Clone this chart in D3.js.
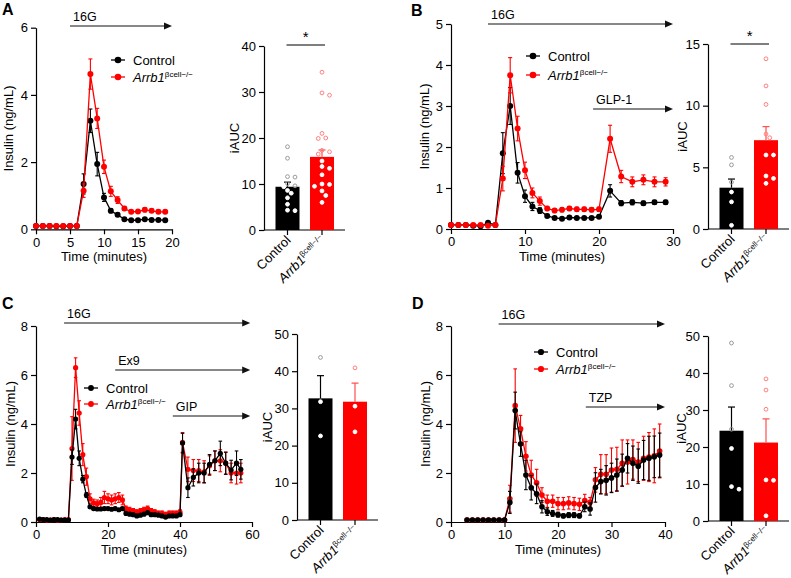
<!DOCTYPE html>
<html><head><meta charset="utf-8">
<script src="https://cdn.jsdelivr.net/npm/d3@7"></script>
<style>body{margin:0;background:#fff}</style>
</head><body>
<svg id="chart" width="791" height="578"></svg>
<script>
// ---------------- DATA ----------------
const groups = ["Control", "Arrb1"];

// Panel A
const aTime = [0,1,2,3,4,5,6,7,8,9,10,11,12,13,14,15,16,17,18,19];
const aCtrl = [0.1,0.1,0.1,0.09,0.09,0.1,0.1,1.35,3.23,1.94,0.95,0.55,0.43,0.3,0.27,0.27,0.3,0.28,0.28,0.27];
const aCtrlSem = [0.02,0.02,0.02,0.02,0.02,0.02,0.02,0.3,0.35,0.35,0.12,0.06,0.05,0.04,0.03,0.03,0.03,0.03,0.03,0.03];
const aKO = [0.1,0.1,0.1,0.1,0.1,0.1,0.1,1.15,4.62,3.3,1.86,1.13,0.87,0.62,0.52,0.53,0.58,0.55,0.52,0.52];
const aKOSem = [0.02,0.02,0.02,0.02,0.02,0.02,0.02,0.2,0.45,0.3,0.2,0.15,0.1,0.06,0.05,0.05,0.06,0.05,0.05,0.05];
const aAnnot = [{label:"16G", from:5, to:20}];
const aBarMean = [9.4, 15.9];
const aBarSem = [1.0, 1.5];
const aCtrlAuc = [18.1,15.6,11.6,11.5,10.1,9.6,9.4,8.6,8.0,7.0,5.6,4.3,4.2];
const aKOAuc = [34.3,29.8,29.3,21.0,20.0,19.9,17.3,17.0,16.5,15.0,13.8,13.4,12.0,10.0,9.9,9.5,8.5,7.5,6.0];

// Panel B
const bTime = [0,1,2,3,4,5,6,7,8,9,10,11,12,13,14,15,16,17,18,19,20,21.5,23,24.5,26,27.5,29];
const bCtrl = [0.1,0.1,0.1,0.08,0.07,0.15,0.1,1.85,3.0,1.37,0.8,0.55,0.45,0.32,0.27,0.25,0.28,0.27,0.27,0.27,0.3,0.93,0.63,0.65,0.63,0.65,0.65];
const bCtrlSem = [0.02,0.02,0.02,0.02,0.02,0.03,0.03,0.5,0.45,0.25,0.15,0.1,0.07,0.04,0.03,0.03,0.03,0.03,0.03,0.03,0.04,0.15,0.06,0.06,0.05,0.05,0.05];
const bKO = [0.1,0.1,0.1,0.1,0.1,0.08,0.1,1.23,3.75,2.45,1.43,0.88,0.68,0.5,0.45,0.47,0.5,0.48,0.48,0.47,0.48,2.2,1.28,1.15,1.2,1.15,1.15];
const bKOSem = [0.02,0.02,0.02,0.02,0.02,0.02,0.02,0.3,0.43,0.3,0.2,0.12,0.1,0.05,0.05,0.05,0.05,0.05,0.05,0.05,0.05,0.33,0.15,0.12,0.12,0.12,0.1];
const bAnnot = [{label:"16G", from:5, to:30},{label:"GLP-1", from:19.2, to:30}];
const bBarMean = [3.35, 7.2];
const bBarSem = [0.7, 1.1];
const bCtrlAuc = [5.8,5.2,3.8,3.0,2.2,0.3];
const bKOAuc = [13.8,11.6,10.1,7.7,7.4,6.0,6.0,4.3,4.1,3.7];

// Panel C
const cTime = [1,2,3,4,5,6,7,8,9,10,11,12,13,14,15,16,17,18,19,20,21,22,23,24,25,26,27,28,29,30,31,32,33,34,35,36,37,38,39,40,
  40.7,42.2,43.7,45.2,46.7,48.2,49.7,51.2,52.7,54.2,55.7,56.9];
const cCtrl = [0.12,0.1,0.1,0.08,0.1,0.1,0.08,0.08,0.08,2.65,
  4.2,2.6,1.75,1.1,0.62,0.55,0.53,0.53,0.55,0.55,
  0.52,0.55,0.5,0.55,0.35,0.32,0.3,0.25,0.28,0.32,
  0.38,0.3,0.3,0.28,0.25,0.2,0.25,0.25,0.25,0.3,
  3.22,1.4,1.82,2.0,2.0,2.35,2.5,2.8,2.4,2.12,2.4,2.15];
const cCtrlSem = [0.03,0.03,0.03,0.03,0.03,0.03,0.03,0.03,0.03,0.3,
  0.4,0.3,0.15,0.1,0.06,0.05,0.05,0.05,0.05,0.05,
  0.05,0.05,0.05,0.05,0.05,0.05,0.05,0.05,0.05,0.05,
  0.05,0.05,0.05,0.05,0.05,0.05,0.05,0.05,0.05,0.05,
  0.4,0.4,0.35,0.4,0.4,0.4,0.4,0.5,0.45,0.4,0.5,0.4];
const cKO = [0.1,0.1,0.08,0.08,0.1,0.08,0.08,0.1,0.1,3.0,
  6.3,4.45,2.75,1.85,0.95,0.78,0.75,0.8,1.0,0.95,
  0.9,0.95,1.0,0.9,0.55,0.5,0.45,0.4,0.45,0.5,
  0.55,0.45,0.4,0.35,0.35,0.3,0.35,0.35,0.35,0.4,
  3.25,2.15,2.1,2.1,2.05,2.3,2.5,2.5,2.4,2.0,2.0,2.0];
const cKOSem = [0.03,0.03,0.03,0.03,0.03,0.03,0.03,0.03,0.03,1.3,
  0.4,0.5,0.45,0.35,0.2,0.15,0.15,0.2,0.25,0.2,
  0.2,0.2,0.2,0.2,0.1,0.1,0.1,0.1,0.1,0.1,
  0.1,0.1,0.1,0.1,0.1,0.1,0.1,0.1,0.1,0.1,
  0.4,0.5,0.45,0.45,0.45,0.4,0.4,0.45,0.45,0.4,0.45,0.4];
const cAnnot = [{label:"16G", from:7.8, to:59.5},{label:"Ex9", from:22, to:59.5},{label:"GIP", from:38, to:59.5}];
const cBarMean = [32.7, 31.8];
const cBarSem = [6.1, 5.0];
const cCtrlAuc = [43.7,31.8,22.6];
const cKOAuc = [40.9,30.6,23.7];

// Panel D
const dTime = [3,4,5,6,7,8,9,10,11,12,13,14,15,16,17,18,19,20,21,22,23,24,25,26,27,28,29,30,31,32,33,34,35,36,37,38,39];
const dCtrl = [0.08,0.08,0.08,0.08,0.08,0.08,0.08,0.08,
  0.8,4.55,3.18,1.92,1.4,1.15,0.62,0.42,0.35,0.3,
  0.25,0.28,0.28,0.25,0.62,0.53,1.41,1.65,1.7,1.8,
  1.92,2.12,2.6,2.4,2.28,2.53,2.6,2.66,2.73];
const dCtrlSem = [0.03,0.03,0.03,0.03,0.03,0.03,0.03,0.03,
  0.45,0.75,0.5,0.6,0.5,0.4,0.25,0.15,0.12,0.1,
  0.08,0.1,0.1,0.08,0.2,0.25,0.6,0.5,0.6,0.6,
  0.65,0.65,0.6,0.7,0.7,0.8,0.9,0.85,0.9];
const dKO = [0.08,0.08,0.08,0.08,0.08,0.08,0.08,0.08,
  0.95,4.75,3.8,2.68,1.92,1.6,1.1,0.85,0.85,0.75,
  0.75,0.78,0.75,0.72,0.88,0.8,1.72,1.95,1.95,2.12,
  2.15,2.4,2.45,2.55,2.45,2.6,2.65,2.7,2.9];
const dKOSem = [0.03,0.03,0.03,0.03,0.03,0.03,0.03,0.03,
  0.55,1.5,0.55,0.6,0.6,0.55,0.3,0.25,0.25,0.25,
  0.25,0.25,0.25,0.25,0.25,0.2,0.5,0.8,0.8,0.9,
  0.9,0.95,0.9,0.8,0.8,0.9,1.0,1.1,1.1];
const dAnnot = [{label:"16G", from:8.9, to:40},{label:"TZP", from:25.2, to:40}];
const dBarMean = [24.4, 21.2];
const dBarSem = [6.4, 6.4];
const dCtrlAuc = [48.1,36.6,24.8,19.6,9.3,8.6];
const dKOAuc = [38.4,35.4,30.2,11.1,11.0,1.4];

// ---------------- DRAWING ----------------
const F = '"Liberation Sans", Arial, Helvetica, sans-serif';
const RED = "#ff0000";
const svg = d3.select("#chart").attr("font-family", F);
const fmt = d3.format("d");

function styleAxis(g, fs) {
  g.attr("font-family", F);
  g.select(".domain").attr("stroke", "#000").attr("stroke-width", 1.2);
  g.selectAll(".tick line").attr("stroke", "#000").attr("stroke-width", 1.2);
  g.selectAll(".tick text").attr("fill", "#000").attr("font-size", fs);
}

function koText(sel, size, supSize) {
  sel.append("tspan").attr("font-style", "italic").text("Arrb1");
  sel.append("tspan").attr("font-size", supSize).attr("dy", -size * 0.38).text("βcell\u2212/\u2212");
}

function linePanel(o) {
  const g = svg.append("g");
  const x = d3.scaleLinear().domain([0, o.xMax]).range([o.left, o.right]);
  const y = d3.scaleLinear().domain([0, o.yMax]).range([o.bottom, o.top]);
  const xa = g.append("g").attr("transform", `translate(0,${o.bottom})`)
    .call(d3.axisBottom(x).tickValues(o.xTicks).tickFormat(fmt).tickSize(5).tickSizeOuter(0).tickPadding(3));
  styleAxis(xa, 13);
  const ya = g.append("g").attr("transform", `translate(${o.left},0)`)
    .call(d3.axisLeft(y).tickValues(o.yTicks).tickFormat(fmt).tickSize(5).tickSizeOuter(0).tickPadding(3));
  styleAxis(ya, 13);

  o.series.forEach(s => {
    const pts = s.t.map((t, i) => ({t, v: s.v[i], e: s.e[i]}));
    const sg = g.append("g");
    sg.append("path").datum(pts)
      .attr("d", d3.line().x(d => x(d.t)).y(d => y(d.v)))
      .attr("fill", "none").attr("stroke", s.color).attr("stroke-width", 1.3);
    const eb = sg.append("g").attr("stroke", s.color).attr("stroke-width", 1.1);
    pts.forEach(d => {
      const lo = y(Math.max(0, d.v - d.e)), hi = y(d.v + d.e), cx = x(d.t);
      eb.append("line").attr("x1", cx).attr("x2", cx).attr("y1", lo).attr("y2", hi);
      eb.append("line").attr("x1", cx - o.cap).attr("x2", cx + o.cap).attr("y1", hi).attr("y2", hi);
      eb.append("line").attr("x1", cx - o.cap).attr("x2", cx + o.cap).attr("y1", lo).attr("y2", lo);
    });
    sg.selectAll("circle").data(pts).join("circle")
      .attr("cx", d => x(d.t)).attr("cy", d => y(d.v)).attr("r", o.r).attr("fill", s.color);
  });

  // annotations
  o.annot.forEach((a, i) => {
    const yy = o.annotY[i];
    const x0 = x(a.from), x1 = x(a.to);
    g.append("line").attr("x1", x0).attr("x2", x1 - 6).attr("y1", yy).attr("y2", yy)
      .attr("stroke", "#111").attr("stroke-width", 1);
    g.append("path").attr("d", `M${x1 - 8},${yy - 3.5}L${x1},${yy}L${x1 - 8},${yy + 3.5}Z`).attr("fill", "#111");
    g.append("text").attr("x", x0 + 3).attr("y", yy - 5).attr("font-size", 12.5).text(a.label);
  });

  // axis labels
  g.append("text").attr("x", (o.left + o.right) / 2).attr("y", o.bottom + 32)
    .attr("text-anchor", "middle").attr("font-size", 13).text("Time (minutes)");
  g.append("text").attr("transform", `translate(${o.ylabX},${(o.top + o.bottom) / 2}) rotate(-90)`)
    .attr("text-anchor", "middle").attr("font-size", 13).text("Insulin (ng/mL)");

  // legend
  const L = o.legend;
  [["Control", "#000"], ["Arrb1", RED]].forEach(([name, col], i) => {
    const yy = L.y[i];
    g.append("line").attr("x1", L.x - 7).attr("x2", L.x + 7).attr("y1", yy).attr("y2", yy)
      .attr("stroke", col).attr("stroke-width", 1.3);
    g.append("circle").attr("cx", L.x).attr("cy", yy).attr("r", o.r + 0.3).attr("fill", col);
    const t = g.append("text").attr("x", L.x + 15).attr("y", yy + 4.5).attr("font-size", 13);
    if (name === "Control") t.text("Control"); else koText(t, 13, 8);
  });

  // panel letter
  svg.append("text").attr("x", o.letter[0]).attr("y", o.letter[1]).attr("font-size", 16)
    .attr("font-weight", "bold").text(o.letterText);
}

function swarm(vals, y, cx, r) {
  const placed = [];
  const out = new Array(vals.length);
  const order = vals.map((v, i) => i).sort((a, b) => vals[b] - vals[a]);
  const step = (2 * r + 1.2) * 0.75;
  const cand = [0];
  for (let k = 1; k < 8; k++) { cand.push(k * step); cand.push(-k * step); }
  order.forEach(i => {
    const py = y(vals[i]);
    let pos = null;
    for (const o of cand) {
      if (placed.every(p => Math.hypot(p.x - (cx + o), p.y - py) >= 2 * r + 0.8)) { pos = {x: cx + o, y: py}; break; }
    }
    if (!pos) pos = {x: cx, y: py};
    placed.push(pos);
    out[i] = pos;
  });
  return out;
}

function barPanel(o) {
  const g = svg.append("g");
  const y = d3.scaleLinear().domain([0, o.yMax]).range([o.bottom, o.top]);
  const x = d3.scalePoint().domain(groups).range([o.left + 23.5, o.left + 58]);
  const bw = 24;
  const ya = g.append("g").attr("transform", `translate(${o.left},0)`)
    .call(d3.axisLeft(y).tickValues(o.yTicks).tickFormat(fmt).tickSize(5).tickSizeOuter(0).tickPadding(3));
  styleAxis(ya, 13);
  g.append("line").attr("x1", o.left).attr("x2", o.left + 81).attr("y1", o.bottom).attr("y2", o.bottom)
    .attr("stroke", "#000").attr("stroke-width", 1.2);
  groups.forEach(k => {
    g.append("line").attr("x1", x(k)).attr("x2", x(k)).attr("y1", o.bottom).attr("y2", o.bottom + 5)
      .attr("stroke", "#000").attr("stroke-width", 1.2);
  });
  const cols = ["#000", RED];
  const errCols = ["#000", "#ff4d4d"];
  const ptCols = ["#9a9a9a", "#ff8080"];
  groups.forEach((k, i) => {
    const m = o.mean[i];
    g.append("rect").attr("x", x(k) - bw / 2).attr("width", bw).attr("y", y(m)).attr("height", y(0) - y(m))
      .attr("fill", cols[i]);
    const top = y(m + o.sem[i]);
    g.append("line").attr("x1", x(k)).attr("x2", x(k)).attr("y1", y(m)).attr("y2", top)
      .attr("stroke", errCols[i]).attr("stroke-width", 1.2);
    g.append("line").attr("x1", x(k) - 3.5).attr("x2", x(k) + 3.5).attr("y1", top).attr("y2", top)
      .attr("stroke", errCols[i]).attr("stroke-width", 1.2);
    const vals = o.points[i];
    const pos = swarm(vals, y, x(k), 1.9);
    vals.forEach((v, j) => {
      const inside = v <= m;
      g.append("circle").attr("cx", pos[j].x).attr("cy", pos[j].y).attr("r", 1.9)
        .attr("fill", inside ? "#fff" : "none").attr("stroke", inside ? "#fff" : ptCols[i]).attr("stroke-width", 1);
    });
  });
  // x labels
  g.append("text").attr("transform", `translate(${x("Control") + 4},${o.bottom + 11}) rotate(-45)`)
    .attr("text-anchor", "end").attr("font-size", 13).text("Control");
  const t = g.append("text").attr("transform", `translate(${x("Arrb1") + 4},${o.bottom + 11}) rotate(-45)`)
    .attr("text-anchor", "end").attr("font-size", 13);
  koText(t, 13, 8);
  // y label
  g.append("text").attr("transform", `translate(${o.ylabX},${(o.top + o.bottom) / 2}) rotate(-90)`)
    .attr("text-anchor", "middle").attr("font-size", 13).text("iAUC");
  // significance
  if (o.sig) {
    g.append("line").attr("x1", x("Control") - 1).attr("x2", x("Arrb1") + 3).attr("y1", o.sigY).attr("y2", o.sigY)
      .attr("stroke", "#000").attr("stroke-width", 1.2);
    g.append("text").attr("x", (x("Control") + x("Arrb1")) / 2 + 1).attr("y", o.sigY - 3)
      .attr("text-anchor", "middle").attr("font-size", 15).text("*");
  }
}

// ---------- Panel A ----------
linePanel({left: 36, right: 172, top: 27.7, bottom: 229.3, xMax: 20, yMax: 6,
  xTicks: [0,5,10,15,20], yTicks: [0,2,4,6], r: 3, cap: 2,
  series: [{t: aTime, v: aCtrl, e: aCtrlSem, color: "#000"}, {t: aTime, v: aKO, e: aKOSem, color: RED}],
  annot: aAnnot, annotY: [26], ylabX: 13, legend: {x: 118, y: [60, 77]},
  letter: [2, 15], letterText: "A"});
barPanel({left: 264, top: 46, bottom: 230, yMax: 40, yTicks: [0,10,20,30,40],
  mean: aBarMean, sem: aBarSem, points: [aCtrlAuc, aKOAuc], ylabX: 239, sig: true, sigY: 45});

// ---------- Panel B ----------
linePanel({left: 451, right: 673, top: 24, bottom: 229, xMax: 30, yMax: 5,
  xTicks: [0,10,20,30], yTicks: [0,1,2,3,4,5], r: 3, cap: 2,
  series: [{t: bTime, v: bCtrl, e: bCtrlSem, color: "#000"}, {t: bTime, v: bKO, e: bKOSem, color: RED}],
  annot: bAnnot, annotY: [24, 109], ylabX: 429, legend: {x: 533, y: [56, 75]},
  letter: [411, 16], letterText: "B"});
barPanel({left: 708, top: 44, bottom: 229, yMax: 15, yTicks: [0,5,10,15],
  mean: bBarMean, sem: bBarSem, points: [bCtrlAuc, bKOAuc], ylabX: 687, sig: true, sigY: 44});

// ---------- Panel C ----------
linePanel({left: 36, right: 252, top: 326, bottom: 522, xMax: 60, yMax: 8,
  xTicks: [0,20,40,60], yTicks: [0,2,4,6,8], r: 2.6, cap: 1.8,
  series: [{t: cTime, v: cKO, e: cKOSem, color: RED}, {t: cTime, v: cCtrl, e: cCtrlSem, color: "#000"}],
  annot: cAnnot, annotY: [323, 370, 416], ylabX: 15, legend: {x: 91, y: [388, 404]},
  letter: [2, 309], letterText: "C"});
barPanel({left: 297, top: 334, bottom: 520, yMax: 50, yTicks: [0,10,20,30,40,50],
  mean: cBarMean, sem: cBarSem, points: [cCtrlAuc, cKOAuc], ylabX: 272, sig: false});

// ---------- Panel D ----------
linePanel({left: 451, right: 665, top: 326, bottom: 522, xMax: 40, yMax: 8,
  xTicks: [0,10,20,30,40], yTicks: [0,2,4,6,8], r: 2.8, cap: 1.8,
  series: [{t: dTime, v: dKO, e: dKOSem, color: RED}, {t: dTime, v: dCtrl, e: dCtrlSem, color: "#000"}],
  annot: dAnnot, annotY: [324, 407], ylabX: 430, legend: {x: 541, y: [352, 369]},
  letter: [412, 309], letterText: "D"});
barPanel({left: 708, top: 336, bottom: 521, yMax: 50, yTicks: [0,10,20,30,40,50],
  mean: dBarMean, sem: dBarSem, points: [dCtrlAuc, dKOAuc], ylabX: 686, sig: false});
</script>
</body></html>
